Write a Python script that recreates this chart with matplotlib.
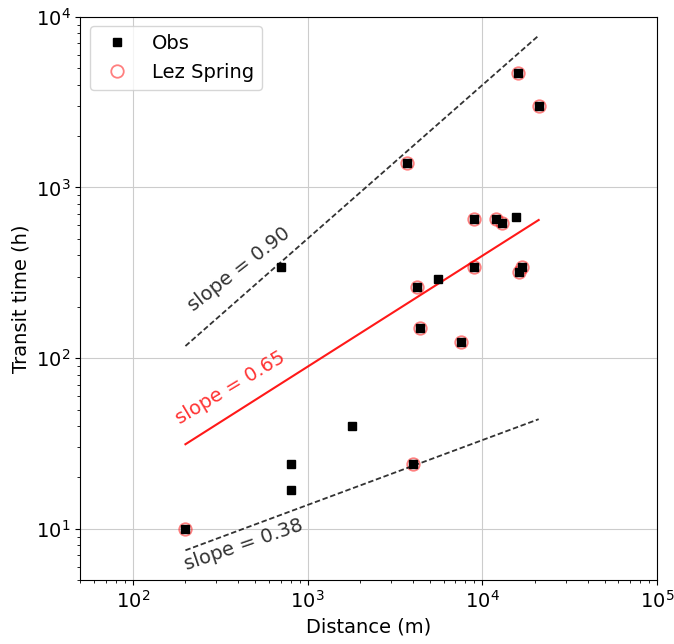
import numpy as np
import matplotlib
matplotlib.use("Agg")
from matplotlib import pyplot as plt

# distance (m) and transit time (h) of all observations
dist = [200, 700, 800, 800, 1800, 3700, 4000, 4200, 4400, 5600,
        7500, 9000, 9000, 12000, 13000, 15500, 16000, 16300, 16800, 21000]
ttime = [10, 340, 24, 17, 40, 1400, 24, 260, 150, 290,
         125, 650, 340, 650, 620, 670, 4700, 320, 340, 3000]
# which ones belong to the Lez spring
lez = [1, 0, 0, 0, 0, 1, 1, 1, 1, 0,
       1, 1, 1, 1, 1, 0, 1, 1, 1, 1]

slopes = [0.90, 0.65, 0.38]
slope_colors = ['k', 'r', 'k']
slope_styles = ['--', '-', '--']
label_pos = [(404, 331), (363, 67), (431, 8.1)]
label_rot = [38, 31, 19]

plt.rcParams['font.size'] = 14

dist = np.array(dist, dtype=float)
ttime = np.array(ttime, dtype=float)
lez = np.array(lez, dtype=bool)

fig = plt.figure(figsize=(6.74, 6.44), dpi=100)
ax = fig.add_axes([0.119, 0.099, 0.856, 0.875])

ax.plot(dist[lez], ttime[lez], 'o', mfc='none', mec='r', mew=1.3, ms=9,
        alpha=0.5, label='Lez Spring', zorder=2)
ax.plot(dist, ttime, 's', color='k', ms=6, label='Obs', zorder=3)

xl = np.array([dist.min(), dist.max()])
for s, c, ls, pos, rot in zip(slopes, slope_colors, slope_styles, label_pos, label_rot):
    if c == 'r':
        ax.plot(xl, xl**s, ls, color=c, lw=1.5, alpha=0.9)
    else:
        ax.plot(xl, xl**s, ls, color=c, lw=1.3, alpha=0.8, dashes=(3, 1.5))
    ax.text(pos[0], pos[1], 'slope = %.2f' % s, color=c, alpha=0.8,
            rotation=rot, ha='center', va='center', rotation_mode='anchor')

ax.set_xscale('log')
ax.set_yscale('log')
ax.set_xlim(50, 1e5)
ax.set_ylim(5, 1e4)
ax.grid(True, which='major', color='0.8')
ax.set_xlabel('Distance (m)')
ax.set_ylabel('Transit time (h)')

h, l = ax.get_legend_handles_labels()
ax.legend(h[::-1], l[::-1], loc='upper left')

fig.savefig('out.png', dpi=100)
